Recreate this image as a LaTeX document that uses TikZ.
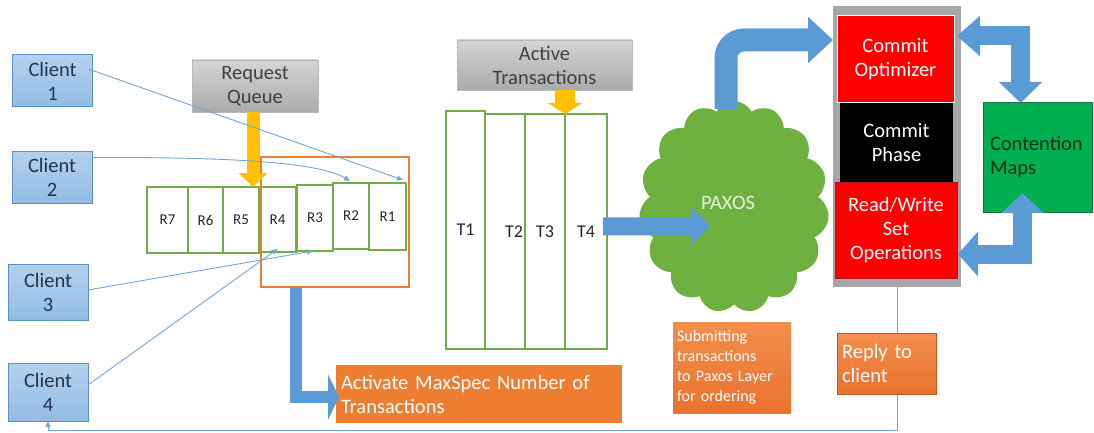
\documentclass[tikz,border=0pt]{standalone}
\usepackage{fontspec}
\setmainfont{Carlito}
\usetikzlibrary{arrows.meta,calc,shapes.symbols}

\definecolor{cliTop}{HTML}{B3D1EE}
\definecolor{cliBot}{HTML}{93BCE3}
\definecolor{cliEdge}{HTML}{5B8FC7}
\definecolor{cliText}{HTML}{24344A}
\definecolor{grayTop}{HTML}{D4D4D4}
\definecolor{grayBot}{HTML}{ABABAB}
\definecolor{grayEdge}{HTML}{B8B8B8}
\definecolor{qGreen}{HTML}{70AD47}
\definecolor{qOrange}{HTML}{ED7D31}
\definecolor{blkBlue}{HTML}{5B9BD5}
\definecolor{thinBlue}{HTML}{6FA5DA}
\definecolor{amber}{HTML}{FFC000}
\definecolor{paxGreen}{HTML}{6FB141}
\definecolor{paxText}{HTML}{E4F1DA}
\definecolor{stackGray}{HTML}{A6A6A6}
\definecolor{rwEdge}{HTML}{B0102A}
\definecolor{cmGreen}{HTML}{00B050}
\definecolor{cmEdge}{HTML}{1F6F3A}
\definecolor{cmText}{HTML}{0A2E14}
\definecolor{orTop}{HTML}{F28E4C}
\definecolor{orBot}{HTML}{E9722E}

\begin{document}
\begin{tikzpicture}[x=1pt,y=-1pt,
  box/.style={rectangle, inner sep=0pt, outer sep=0pt},
  bigfont/.style={font=\fontsize{20.5}{24}\selectfont},
  client/.style={box, bigfont, draw=cliEdge, line width=1pt, top color=cliTop, bottom color=cliBot,
    text=cliText, align=center, minimum width=80pt},
  graybox/.style={box, bigfont, draw=grayEdge, line width=0.8pt, top color=grayTop, bottom color=grayBot,
    text=black!75, align=center},
  slot/.style={box, draw=qGreen, line width=1.2pt, fill=white, font=\fontsize{15}{18}\selectfont, text=black!85},
  tcol/.style={box, draw=qGreen, line width=1.2pt, fill=white, font=\fontsize{18}{21}\selectfont, text=black!85},
  thinarrow/.style={draw=thinBlue, line width=0.9pt, -{Triangle[length=6pt,width=5pt]}},
  blockarrow/.style={draw=blkBlue},
  amberarrow/.style={draw=amber},
  orangebox/.style={box, bigfont, fill=qOrange, text=white, align=left},
]
\useasboundingbox (0,0) rectangle (1094,433);

% clients
\node[client, minimum height=52pt] (c1) at (52.5,81) {Client\\1};
\node[client, minimum height=52pt] (c2) at (52,177.5) {Client\\2};
\node[client, minimum height=56pt] (c3) at (48,292) {Client\\3};
\node[client, minimum height=58pt] (c4) at (48,392) {Client\\4};

% request queue slots
\node[slot, minimum width=41pt, minimum height=66pt] (r7) at (167.5,220) {R7};
\node[slot, minimum width=35pt, minimum height=66pt] (r6) at (205.5,220) {R6};
\node[slot, minimum width=36pt, minimum height=66pt] (r5) at (241,220) {R5};
\node[slot, minimum width=37pt, minimum height=65pt] (r4) at (277.5,219.5) {R4};
\node[slot, minimum width=36pt, minimum height=66pt] (r3) at (315,218) {R3};
\node[slot, minimum width=36pt, minimum height=66pt] (r2) at (351,216) {R2};
\node[slot, minimum width=37pt, minimum height=67pt] (r1) at (387.5,216.5) {R1};

% batch frame
\node[box, draw=qOrange, line width=1.3pt, minimum width=148pt, minimum height=130pt] (batch) at (335,222) {};

% headers
\node[graybox, minimum width=126pt, minimum height=52pt] (rq) at (255,86) {Request\\Queue};
\node[graybox, minimum width=175pt, minimum height=50pt] (at) at (544.5,65) {Active\\Transactions};

% active transaction columns
\node[tcol, minimum width=39pt, minimum height=238pt] (t1) at (465.5,230) {T1};
\node[tcol, minimum width=40pt, minimum height=235pt, text width=36pt, align=right] (t2) at (505,231.5) {T2};
\node[tcol, minimum width=40pt, minimum height=235pt] (t3) at (545,231.5) {T3};
\node[tcol, minimum width=42pt, minimum height=235pt] (t4) at (586,231.5) {T4};

% amber arrows
\draw[amberarrow, line width=13pt, -{Triangle[length=14pt,width=28pt]}]
  ($(rq.south)+(-2,0)$) -- ($(r5.north east)+(-6,0)$);
\draw[amberarrow, line width=20pt, -{Triangle[length=11pt,width=34pt]}]
  ($(at.south)+(20.5,0)$) -- (t4.north west);

% client requests
\draw[thinarrow] ($(c1.east)+(-4,-12)$) -- ($(r1.north east)+(-3,-3)$);
\draw[thinarrow] ($(c2.east)+(0,-20)$) .. controls (240,157) and (320,163) .. ($(r2.north)+(-1,-2)$);
\draw[thinarrow] ($(c3.east)+(0,-2)$) -- ($(r3.south)+(-2,0)$);
\draw[thinarrow] ($(c4.east)+(0,-7)$) -- ($(r4.south)+(0,-3)$);

% activation
\node[orangebox, minimum width=286pt, minimum height=58pt, text width=276pt] (act) at (479,394)
  {Activate MaxSpec Number of\\Transactions};
\draw[blockarrow, line width=12pt, -{Triangle[length=11pt,width=45pt]}]
  ($(batch.south west)+(35,0)$) |- ($(act.west)+(3,3)$);

% ordering layer
\node[cloud, cloud puffs=15, cloud puff arc=125, cloud ignores aspect, fill=paxGreen, draw=none,
  minimum width=190pt, minimum height=212pt] (paxos) at (734,207) {};
\node[bigfont, text=paxText] (paxlabel) at (728,203) {PAXOS};
\draw[blockarrow, line width=18pt, -{Triangle[length=18pt,width=36pt]}]
  ($(t4.east)+(-4,-5)$) -- ($(paxos.center)+(-24,19)$);

\node[box, font=\fontsize{16}{20}\selectfont, top color=orTop, bottom color=orBot, text=white,
  align=left, text width=110pt, minimum width=118pt, minimum height=91pt] (submit) at (732,367.5)
  {Submitting\\transactions\\to Paxos Layer\\for ordering};

% commit stack
\node[box, fill=stackGray, minimum width=128pt, minimum height=281pt] (stack) at (897,146.5) {};
\node[box, bigfont, fill=red, draw=white, line width=1pt, text=white, align=center,
  minimum width=117pt, minimum height=87pt] (co) at (895.5,59.5) {Commit\\Optimizer};
\node[box, bigfont, fill=black, text=white, align=center,
  minimum width=113pt, minimum height=79pt] (cp) at (896.5,142.5) {Commit\\Phase};
\node[box, bigfont, fill=red, draw=rwEdge, line width=0.8pt, text=white, align=center,
  minimum width=122pt, minimum height=96pt] (rw) at (896,230) {Read/Write\\Set\\Operations};

\node[box, bigfont, fill=cmGreen, draw=cmEdge, line width=1pt, text=cmText, align=left,
  text width=95pt, minimum width=109pt, minimum height=109pt] (cm) at (1037.5,157.5) {Contention\\Maps};

% transfer into the commit stack
\draw[blockarrow, line width=23pt, rounded corners=18pt, -{Triangle[length=25pt,width=45pt]}]
  ($(paxos.north)+(-8,8)$) |- ($(co.north west)+(-4,24)$);

% contention map exchange
\draw[blockarrow, line width=19pt, {Triangle[length=23pt,width=39pt]}-{Triangle[length=21pt,width=42pt]}]
  ($(stack.north east)+(-4,30)$) -| ($(cm.north)+(-17,0)$);
\draw[blockarrow, line width=19pt, {Triangle[length=20pt,width=41pt]}-{Triangle[length=20pt,width=44pt]}]
  ($(cm.south)+(-15,-19)$) |- ($(rw.east)+(1,24)$);

% reply path
\draw[draw=thinBlue, line width=1pt, -{Triangle[length=6pt,width=5pt]}]
  (stack.south) -- ++(0,143) -| (c4.south);
\node[box, bigfont, top color=orTop, bottom color=orBot, draw=orBot!80!black, line width=0.6pt,
  text=white, align=left, text width=89pt, minimum width=99pt, minimum height=61pt] (reply) at (886.5,363.5)
  {Reply to\\client};
\end{tikzpicture}
\end{document}
